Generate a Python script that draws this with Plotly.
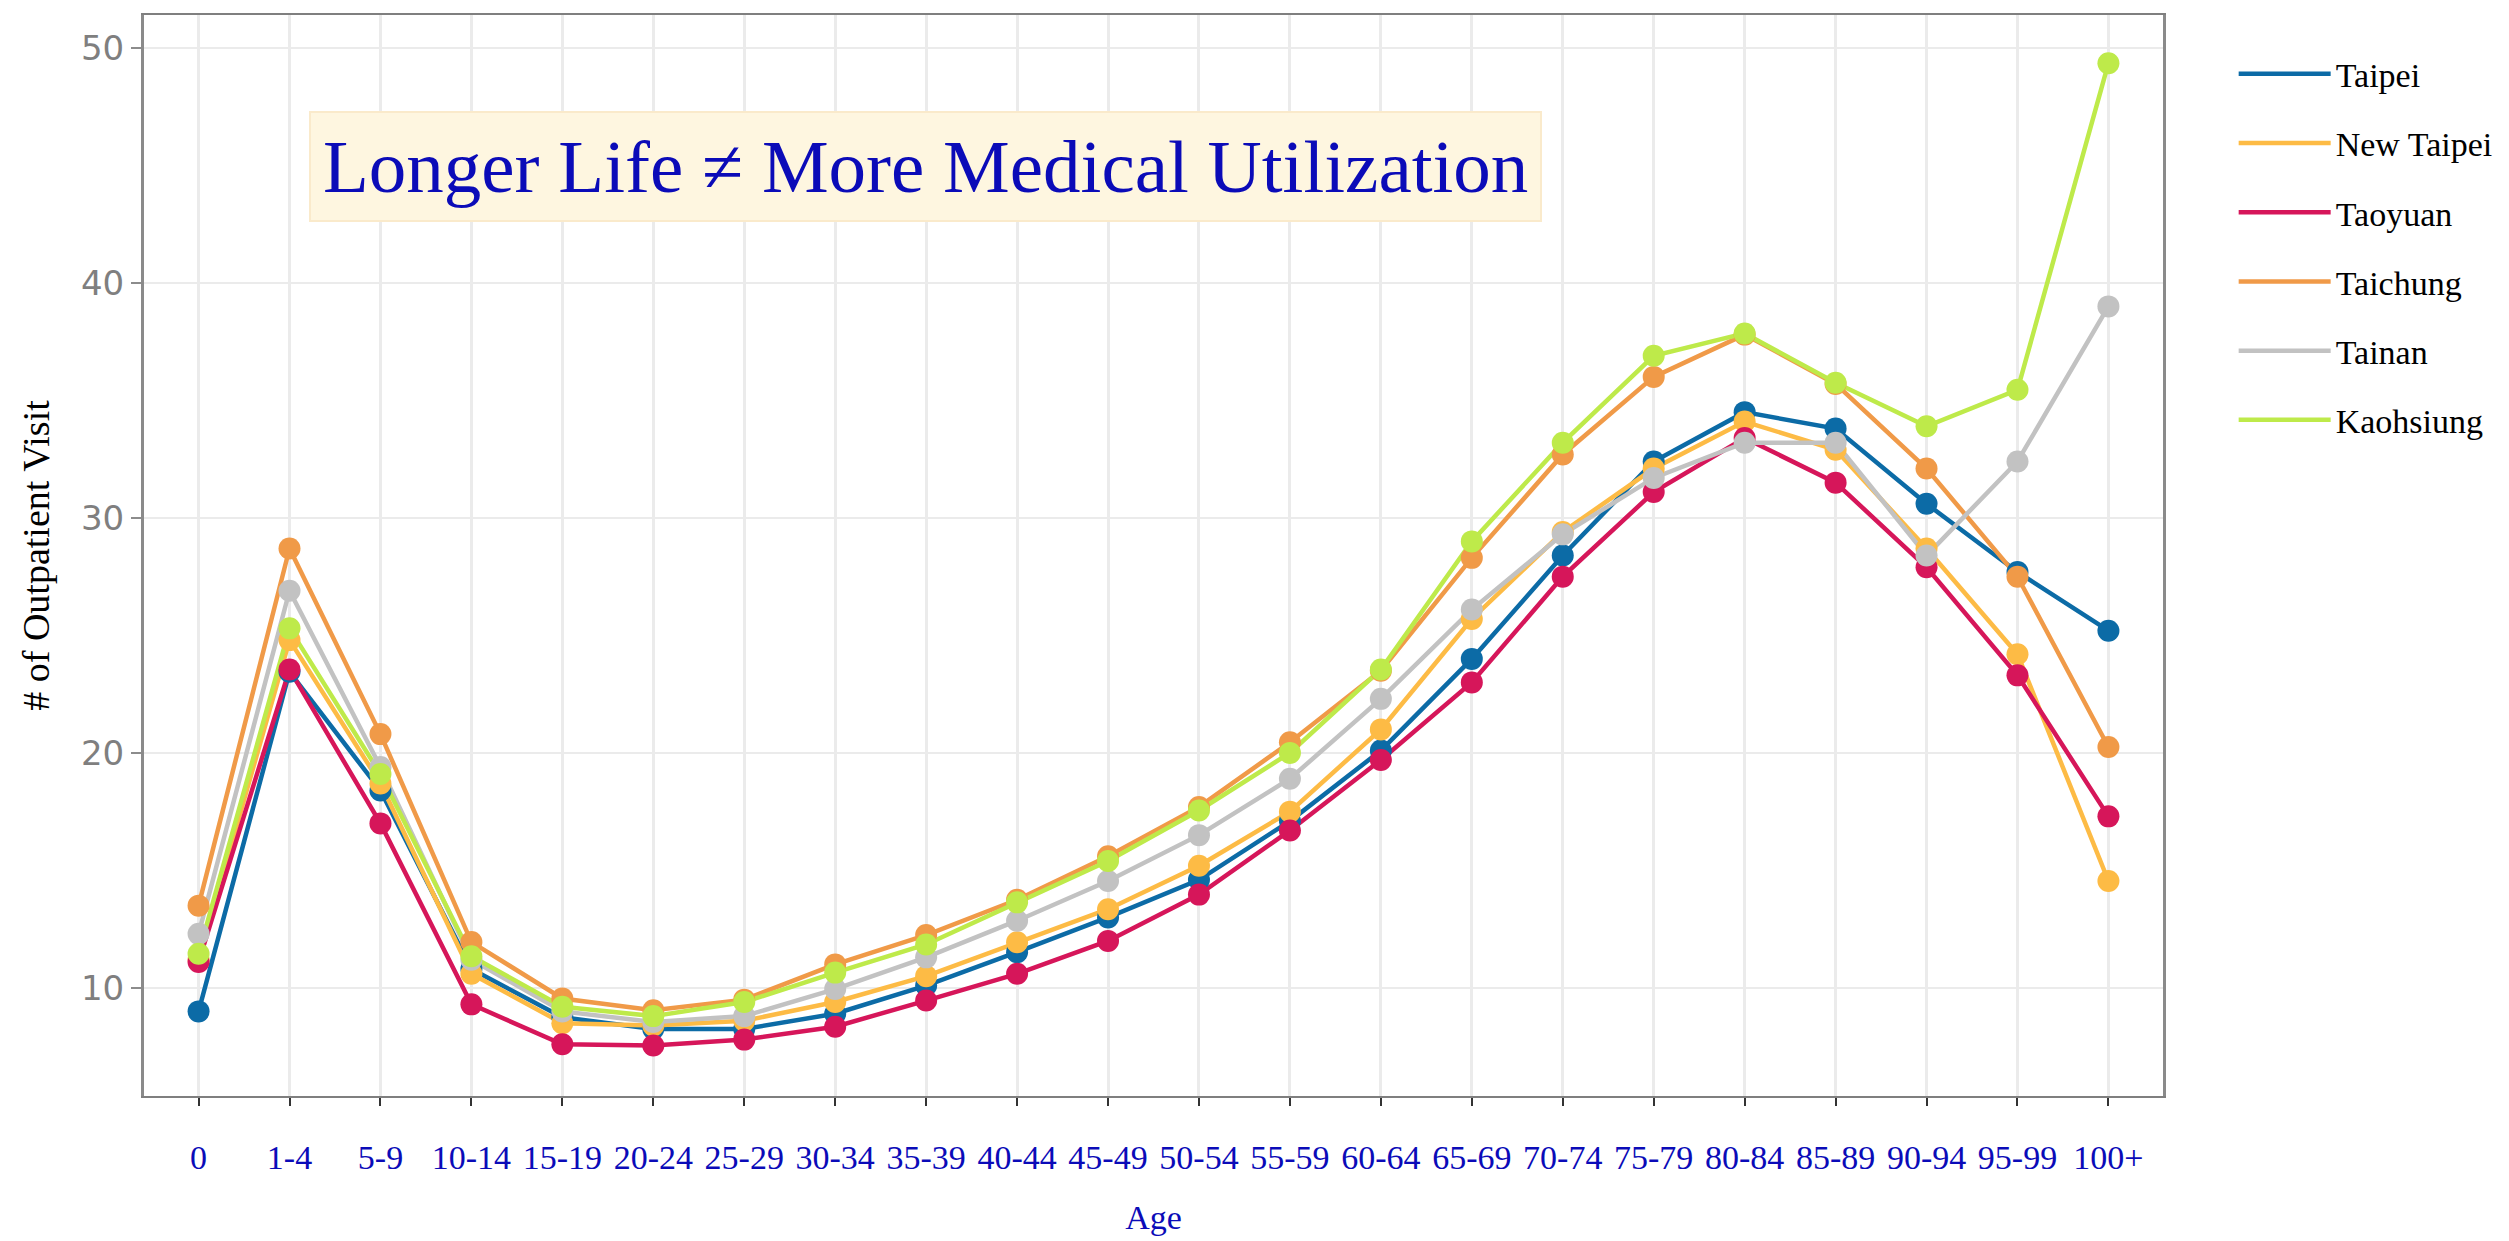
import plotly.graph_objects as go

ages = ["0", "1-4", "5-9", "10-14", "15-19", "20-24", "25-29", "30-34", "35-39", "40-44",
        "45-49", "50-54", "55-59", "60-64", "65-69", "70-74", "75-79", "80-84", "85-89",
        "90-94", "95-99", "100+"]

taipei = [9.0, 23.45, 18.4, 10.8, 8.75, 8.25, 8.25, 8.9, 10.1, 11.52, 13.0, 14.6, 17.1,
          20.1, 24.0, 28.4, 32.4, 34.5, 33.8, 30.6, 27.7, 25.2]
new_taipei = [11.2, 24.8, 18.7, 10.6, 8.5, 8.4, 8.6, 9.4, 10.5, 11.94, 13.35, 15.2, 17.5,
              21.0, 25.7, 29.4, 32.1, 34.1, 32.9, 28.7, 24.2, 14.55]
taoyuan = [11.1, 23.55, 17.0, 9.3, 7.6, 7.55, 7.8, 8.35, 9.46, 10.6, 12.0, 13.97, 16.7,
           19.7, 23.0, 27.5, 31.1, 33.4, 31.5, 27.9, 23.3, 17.3]
taichung = [13.5, 28.7, 20.8, 11.95, 9.55, 9.05, 9.5, 11.0, 12.25, 13.75, 15.6, 17.7, 20.45,
            23.5, 28.3, 32.7, 36.0, 37.8, 35.7, 32.1, 27.5, 20.25]
tainan = [12.3, 26.9, 19.4, 11.2, 9.0, 8.55, 8.8, 9.95, 11.3, 12.86, 14.55, 16.5, 18.9,
          22.3, 26.1, 29.3, 31.7, 33.2, 33.2, 28.4, 32.4, 39.0]
kaohsiung = [11.45, 25.3, 19.1, 11.35, 9.2, 8.8, 9.4, 10.65, 11.85, 13.64, 15.4, 17.55, 20.0,
             23.55, 29.0, 33.2, 36.9, 37.85, 35.75, 33.9, 35.45, 49.35]

city_names = ["Taipei", "New Taipei", "Taoyuan", "Taichung", "Tainan", "Kaohsiung"]
city_values = [taipei, new_taipei, taoyuan, taichung, tainan, kaohsiung]
city_colors = ["#0C6BA6", "#FDBB45", "#D6165A", "#F09A48", "#C2C2C2", "#BEEA4A"]

title_text = "Longer Life \u2260 More Medical Utilization"

fig = go.Figure()

# lines (with legend)
for name, vals, col in zip(city_names, city_values, city_colors):
    fig.add_trace(go.Scatter(
        x=ages, y=vals, mode="lines", name=name, legendgroup=name,
        line=dict(color=col, width=4.5), showlegend=True,
    ))
# points on top
for name, vals, col in zip(city_names, city_values, city_colors):
    fig.add_trace(go.Scatter(
        x=ages, y=vals, mode="markers", name=name, legendgroup=name,
        marker=dict(color=col, size=22, line=dict(width=0)), showlegend=False,
    ))

serif = "Liberation Serif, Times New Roman, serif"
blue_txt = "#0B0BB8"

fig.update_layout(
    width=2501, height=1233,
    margin=dict(l=136, r=346, t=5, b=145),
    paper_bgcolor="white", plot_bgcolor="white",
    showlegend=True,
    legend=dict(
        x=1.035, xanchor="left", y=0.972, yanchor="top",
        font=dict(family=serif, size=34, color="black"),
        tracegroupgap=22, bgcolor="rgba(0,0,0,0)", itemwidth=92,
    ),
    annotations=[dict(
        text=title_text, xref="paper", yref="paper", x=0.387, y=0.86,
        xanchor="center", yanchor="middle", showarrow=False,
        font=dict(family=serif, size=75, color=blue_txt),
        bgcolor="#FEF6E0", bordercolor="#FAEACB", borderwidth=2, borderpad=12,
    )],
)

fig.update_xaxes(
    type="category", range=[-0.6, 21.6],
    showgrid=True, gridcolor="#EBEBEB", gridwidth=2.5,
    showline=True, linecolor="#7F7F7F", linewidth=2, mirror=True,
    ticks="outside", ticklen=8, tickwidth=2, tickcolor="#333333",
    tickfont=dict(family=serif, size=34, color=blue_txt),
    ticklabelstandoff=22,
    title=dict(text="Age", font=dict(family=serif, size=34, color=blue_txt), standoff=30),
    zeroline=False,
)
fig.update_yaxes(
    range=[5.4, 51.4], tickvals=[10, 20, 30, 40, 50],
    showgrid=True, gridcolor="#EBEBEB", gridwidth=2,
    showline=True, linecolor="#8A8A8A", linewidth=3, mirror=True,
    ticks="outside", ticklen=10, tickwidth=2, tickcolor="#8C8C8C",
    tickfont=dict(family="DejaVu Sans, Verdana, sans-serif", size=34, color="#7F7F7F"),
    title=dict(text="# of Outpatient Visit", font=dict(family=serif, size=38, color="black"),
               standoff=20),
    zeroline=False,
)

fig.write_html("out.html")
